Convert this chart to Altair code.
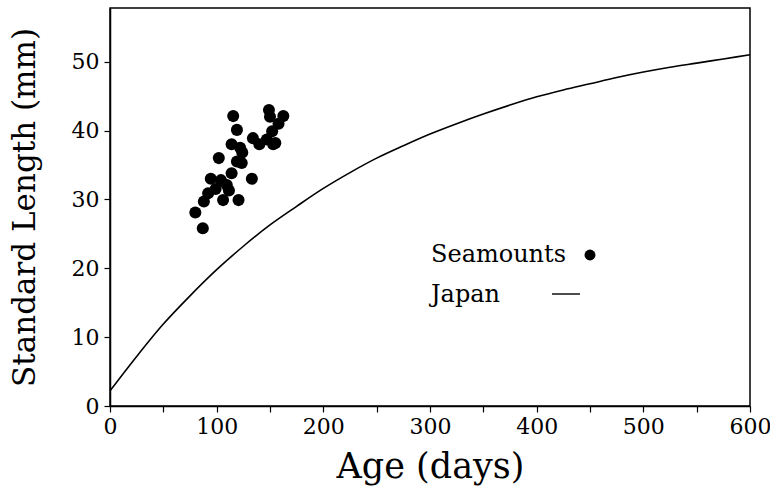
import altair as alt
import pandas as pd

# Seamounts: observed age (days) and standard length (mm)
seamount_age = [80, 87, 88, 92, 94.5, 99, 102, 104, 106, 109.5, 111.5, 114, 114,
                115.5, 119, 119, 120.5, 122, 123.5, 124, 133, 134, 140, 147,
                149, 150, 152, 153, 155, 158, 162.5]
seamount_length = [28.1, 25.8, 29.7, 30.9, 33.0, 31.5, 36.0, 32.8, 29.9, 32.1, 31.3, 33.8, 38.0,
                   42.1, 40.1, 35.5, 29.9, 37.5, 35.3, 36.8, 33.0, 38.9, 38.0, 38.7,
                   43.0, 42.0, 39.9, 38.0, 38.2, 41.0, 42.1]

# Japan growth curve
japan_age = [0, 25, 50, 75, 100, 125, 150, 175, 200, 225, 250, 275, 300, 325,
             350, 375, 400, 425, 450, 475, 500, 525, 550, 575, 600]
japan_length = [2.2, 7.2, 11.9, 16.0, 19.8, 23.2, 26.3, 29.0, 31.6, 33.9, 36.0, 37.8,
                39.5, 41.0, 42.4, 43.7, 44.9, 45.9, 46.8, 47.7, 48.5, 49.2, 49.8, 50.4, 51.0]

x_ticks = list(range(0, 601, 50))
y_ticks = list(range(0, 56, 5))
legend_labels = ["Seamounts", "Japan"]

FONT = "DejaVu Serif"

scat = pd.DataFrame({"age": seamount_age, "length": seamount_length})
curve = pd.DataFrame({"age": japan_age, "length": japan_length})

xscale = alt.Scale(domain=[0, 600], nice=False, zero=False)
yscale = alt.Scale(domain=[0, 57.8], nice=False)

xaxis = alt.Axis(
    title="Age (days)", values=x_ticks,
    labelExpr="datum.value % 100 == 0 ? datum.label : ''",
    grid=False, tickSize=6, labelFontSize=22, titleFontSize=35,
    labelPadding=4, titlePadding=12, labelOverlap=False, labelFlush=False,
    labelFont=FONT, titleFont=FONT, titleFontWeight="normal",
)
yaxis = alt.Axis(
    title="Standard Length (mm)", values=y_ticks,
    labelExpr="datum.value % 10 == 0 ? datum.label : ''",
    grid=False, tickSize=6, labelFontSize=22, titleFontSize=31,
    labelPadding=5, titlePadding=30, labelOverlap=False, labelFlush=False,
    labelFont=FONT, titleFont=FONT, titleFontWeight="normal",
)

line = alt.Chart(curve).mark_line(color="black", strokeWidth=1.6, interpolate="monotone").encode(
    x=alt.X("age:Q", scale=xscale, axis=xaxis),
    y=alt.Y("length:Q", scale=yscale, axis=yaxis),
)

points = alt.Chart(scat).mark_circle(color="black", opacity=1, size=145).encode(
    x=alt.X("age:Q", scale=xscale),
    y=alt.Y("length:Q", scale=yscale),
)

one = alt.Data(values=[{"k": 1}])

leg_text1 = alt.Chart(one).mark_text(
    align="left", baseline="middle", font=FONT, fontSize=24, color="black"
).encode(x=alt.value(321), y=alt.value(247), text=alt.value(legend_labels[0]))

leg_text2 = alt.Chart(one).mark_text(
    align="left", baseline="middle", font=FONT, fontSize=24, color="black"
).encode(x=alt.value(321), y=alt.value(287), text=alt.value(legend_labels[1]))

leg_dot = alt.Chart(one).mark_circle(color="black", opacity=1, size=120).encode(
    x=alt.value(480), y=alt.value(247)
)

leg_rule = alt.Chart(one).mark_rule(color="black", strokeWidth=1.4).encode(
    x=alt.value(442), x2=alt.value(470), y=alt.value(286)
)

chart = alt.layer(line, points, leg_text1, leg_text2, leg_dot, leg_rule).properties(
    width=640, height=398,
    autosize=alt.AutoSizeParams(type="none"),
    padding={"left": 110, "top": 8, "right": 20, "bottom": 94},
    background="white",
).configure_view(
    stroke="black", strokeWidth=1.5
).configure_axis(
    domainColor="black", domainWidth=1.5, tickColor="black", tickWidth=1.2,
    labelColor="black", titleColor="black",
)

chart.save("out.html", embed_options={"renderer": "svg", "actions": False})
